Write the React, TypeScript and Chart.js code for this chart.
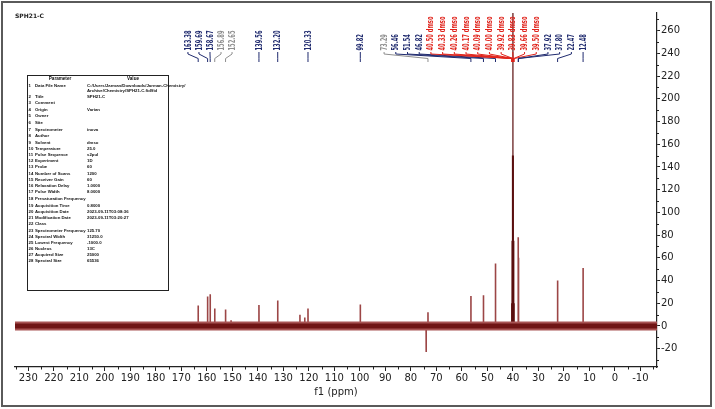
import React, { useEffect, useRef } from "react";
import { Chart, registerables } from "chart.js";

Chart.register(...registerables);

// ---- axis ranges & tick labels ----
const X_MIN = -16.5;
const X_MAX = 235.2;
const Y_MIN = -36.1;
const Y_MAX = 275.5;
const X_TICKS = [230, 220, 210, 200, 190, 180, 170, 160, 150, 140, 130, 120, 110, 100, 90, 80, 70, 60, 50, 40, 30, 20, 10, 0, -10];
const Y_TICKS = [260, 240, 220, 200, 180, 160, 140, 120, 100, 80, 60, 40, 20, 0, -20];

// ---- spectrum peaks (ppm, intensity) ----
const PEAK_PPM = [163.38, 159.69, 158.67, 156.89, 152.65, 150.5, 139.56, 132.2, 123.5, 121.6, 120.33, 99.82, 74.0, 73.29, 56.46, 51.54, 46.82, 37.92, 37.8, 22.47, 12.48];
const PEAK_HEIGHT = [18, 26, 28, 15.5, 14.5, 5, 18.5, 22.5, 10, 7.5, 15.5, 19, -23, 12, 26.5, 27, 55, 78, 60, 40, 51];

// ---- solvent (DMSO-d6) multiplet ----
const DMSO_PPM = [40.5, 40.33, 40.26, 40.17, 40.09, 40.0, 39.92, 39.83, 39.66, 39.5];
const DMSO_HEIGHT = [20, 75, 15, 150, 20, 400, 20, 150, 75, 20];

// ---- peak labels ----
const LABEL_PPM = [163.38, 159.69, 158.67, 156.89, 152.65, 139.56, 132.2, 120.33, 99.82, 73.29, 56.46, 51.54, 46.82, 40.5, 40.33, 40.26, 40.17, 40.09, 40.0, 39.92, 39.83, 39.66, 39.5, 37.92, 37.8, 22.47, 12.48];
const LABEL_KIND = "nnnggnnnngnnnrrrrrrrrrrnnnn";
const LABEL_GROUPS = [
  { first: 0, last: 4, fromPpm: 167.4, toPpm: 150.1 },
  { first: 9, last: 26, fromPpm: 90.5, toPpm: 12.48 },
];

// ---- parameter table ----
const PARAM_NAMES = ["Data File Name", "Title", "Comment", "Origin", "Owner", "Site", "Spectrometer", "Author", "Solvent", "Temperature", "Pulse Sequence", "Experiment", "Probe", "Number of Scans", "Receiver Gain", "Relaxation Delay", "Pulse Width", "Presaturation Frequency", "Acquisition Time", "Acquisition Date", "Modification Date", "Class", "Spectrometer Frequency", "Spectral Width", "Lowest Frequency", "Nucleus", "Acquired Size", "Spectral Size"];
const PARAM_VALUES = ["C:/Users/Jarman/Downloads/Jarman-Chemistry/ Archive/Chemistry/SPH21-C.fid/fid", "SPH21-C", "", "Varian", "", "", "inova", "", "dmso", "25.0", "s2pul", "1D", "60", "1200", "60", "1.0000", "8.0000", "", "0.8000", "2023-09-11T03:08:36", "2023-09-11T03:20:27", "", "125.70", "31250.0", "-1000.0", "13C", "25000", "65536"];
const PARAM_ROW_Y = [86, 97, 103, 110, 116, 123, 130, 136, 143, 149, 155, 161, 167, 174, 180, 186, 192, 199, 206, 212, 218, 224, 231, 237, 243, 249, 255, 261];

const KIND_COLOR: Record<string, string> = { n: "#1f2a6e", g: "#8e8e8e", r: "#e0241c" };
const LABEL_FONT = 'bold 8px "DejaVu Sans Condensed", "DejaVu Sans", sans-serif';
const LABEL_SQUEEZE = 0.72;
const AXIS_FONT = { family: "DejaVu Sans", size: 10 };

function peakSeries(ppm: number[], h: number[]) {
  const out: { x: number; y: number | null }[] = [];
  ppm.forEach((p, i) => {
    out.push({ x: p + 0.03, y: 0 }, { x: p, y: h[i] }, { x: p - 0.03, y: 0 }, { x: p, y: null });
  });
  return out;
}

const decorPlugin = {
  id: "decor",
  afterDraw(chart: any) {
    const { ctx, chartArea, scales } = chart;
    const xs = scales.x;
    const ys = scales.y;
    ctx.save();

    // minor ticks
    ctx.strokeStyle = "#222";
    ctx.lineWidth = 1;
    ctx.beginPath();
    for (let v = -15; v <= 235; v += 10) {
      const px = Math.round(xs.getPixelForValue(v)) + 0.5;
      ctx.moveTo(px, chartArea.bottom);
      ctx.lineTo(px, chartArea.bottom + 2.5);
    }
    for (let v = -30; v <= 270; v += 20) {
      const py = Math.round(ys.getPixelForValue(v)) + 0.5;
      ctx.moveTo(chartArea.right, py);
      ctx.lineTo(chartArea.right + 2, py);
    }
    ctx.stroke();

    // peak labels
    const labelX: number[] = LABEL_PPM.map((p) => xs.getPixelForValue(p));
    LABEL_GROUPS.forEach((g) => {
      const a = xs.getPixelForValue(g.fromPpm);
      const b = xs.getPixelForValue(g.toPpm);
      const n = g.last - g.first;
      for (let k = 0; k <= n; k++) labelX[g.first + k] = a + ((b - a) * k) / n;
    });
    ctx.font = LABEL_FONT;
    LABEL_PPM.forEach((p, i) => {
      const kind = LABEL_KIND[i];
      const color = KIND_COLOR[kind];
      const lx = labelX[i];
      const px = xs.getPixelForValue(p);
      ctx.strokeStyle = color;
      ctx.lineWidth = 1;
      ctx.beginPath();
      ctx.moveTo(lx, 52);
      ctx.lineTo(lx, 54);
      ctx.lineTo(px, 58.5);
      ctx.lineTo(px, 62);
      ctx.stroke();
      ctx.save();
      ctx.translate(lx, 50.5);
      ctx.rotate(-Math.PI / 2);
      ctx.scale(LABEL_SQUEEZE, 1);
      ctx.fillStyle = color;
      ctx.textAlign = "left";
      ctx.textBaseline = "middle";
      const txt = p.toFixed(2) + (kind === "r" ? " dmso" : "");
      ctx.fillText(txt, 0, 0.5);
      ctx.restore();
    });

    // parameter table
    const tx0 = 27, ty0 = 75, tx1 = 168, ty1 = 290;
    ctx.fillStyle = "#fff";
    ctx.fillRect(tx0, ty0, tx1 - tx0, ty1 - ty0);
    ctx.strokeStyle = "#222";
    ctx.lineWidth = 1;
    ctx.strokeRect(tx0 + 0.5, ty0 + 0.5, tx1 - tx0, ty1 - ty0);
    ctx.fillStyle = "#111";
    ctx.textBaseline = "middle";
    ctx.font = 'bold 4.6px "Liberation Sans", sans-serif';
    ctx.textAlign = "center";
    ctx.fillText("Parameter", 60, 79);
    ctx.fillText("Value", 133, 79);
    ctx.textAlign = "left";
    ctx.font = 'bold 4.3px "Liberation Sans", sans-serif';
    PARAM_NAMES.forEach((name, i) => {
      const y = PARAM_ROW_Y[i];
      ctx.fillText(String(i + 1), 28.5, y);
      ctx.fillText(name, 35, y);
      const val = PARAM_VALUES[i];
      if (val.length > 40) {
        const cut = val.indexOf(" ");
        ctx.fillText(val.slice(0, cut), 87, y);
        ctx.fillText(val.slice(cut + 1), 87, y + 5);
      } else if (val) {
        ctx.fillText(val, 87, y);
      }
    });

    // sample title
    ctx.font = 'bold 6px "DejaVu Sans", sans-serif';
    ctx.fillStyle = "#222";
    ctx.textAlign = "left";
    ctx.fillText("SPH21-C", 15, 16);

    // outer frame
    ctx.strokeStyle = "#5a5a5a";
    ctx.lineWidth = 2;
    ctx.strokeRect(2, 2, 709, 404);
    ctx.restore();
  },
};

export default function App() {
  const ref = useRef<HTMLCanvasElement | null>(null);
  useEffect(() => {
    if (!ref.current) return;
    const chart = new Chart(ref.current, {
      type: "line",
      data: {
        datasets: [
          {
            data: [{ x: X_MAX, y: 0 }, { x: X_MIN, y: 0 }],
            borderColor: "#6f1515",
            borderWidth: 5,
            pointRadius: 0,
          },
          {
            data: [{ x: X_MAX, y: 0 }, { x: X_MIN, y: 0 }],
            borderColor: "#a85454",
            borderWidth: 9,
            pointRadius: 0,
          },
          {
            data: peakSeries(DMSO_PPM, DMSO_HEIGHT),
            borderColor: "#5a0e0e",
            borderWidth: 1.2,
            pointRadius: 0,
            spanGaps: false,
          },
          {
            data: peakSeries(PEAK_PPM, PEAK_HEIGHT),
            borderColor: "#9c4646",
            borderWidth: 1.6,
            pointRadius: 0,
            spanGaps: false,
          },
        ],
      },
      options: {
        animation: false,
        responsive: false,
        maintainAspectRatio: false,
        layout: { padding: { left: 15, top: 13, right: 18, bottom: 6 } },
        plugins: { legend: { display: false }, tooltip: { enabled: false } },
        elements: { point: { radius: 0 }, line: { tension: 0 } },
        scales: {
          x: {
            type: "linear",
            reverse: true,
            min: X_MIN,
            max: X_MAX,
            afterBuildTicks: (s: any) => {
              s.ticks = X_TICKS.map((v) => ({ value: v }));
            },
            afterFit: (s: any) => {
              s.height = 36;
            },
            ticks: { autoSkip: false, maxRotation: 0, font: AXIS_FONT, color: "#222", padding: 1 },
            grid: { drawOnChartArea: false, tickLength: 4, color: "#222" },
            border: { color: "#222", width: 1.2 },
            title: { display: true, text: "f1 (ppm)", font: AXIS_FONT, color: "#222", padding: { top: 0, bottom: 5 } },
          },
          y: {
            type: "linear",
            position: "right",
            min: Y_MIN,
            max: Y_MAX,
            afterBuildTicks: (s: any) => {
              s.ticks = Y_TICKS.map((v) => ({ value: v }));
            },
            afterFit: (s: any) => {
              s.width = 40;
            },
            ticks: { autoSkip: false, font: AXIS_FONT, color: "#222", padding: 1 },
            grid: { drawOnChartArea: false, tickLength: 3, color: "#222" },
            border: { color: "#222", width: 1.2 },
          },
        },
      },
      plugins: [decorPlugin],
    } as any);
    return () => chart.destroy();
  }, []);
  return (
    <div style={{ position: "absolute", left: 0, top: 0, width: 715, height: 409, background: "#fff" }}>
      <canvas ref={ref} width={715} height={409} style={{ display: "block" }} />
    </div>
  );
}
